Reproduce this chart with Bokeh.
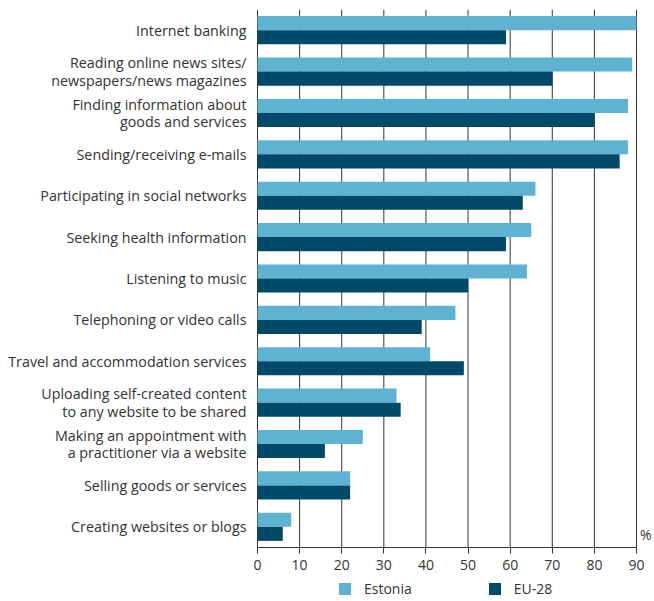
from bokeh.plotting import figure
from bokeh.models import Range1d, Legend, LegendItem, Label, FixedTicker, ColumnDataSource
from bokeh.transform import dodge
from bokeh.embed import file_html
from bokeh.resources import INLINE

categories = [
    "Internet banking",
    "Reading online news sites/\nnewspapers/news magazines",
    "Finding information about\ngoods and services",
    "Sending/receiving e-mails",
    "Participating in social networks",
    "Seeking health information",
    "Listening to music",
    "Telephoning or video calls",
    "Travel and accommodation services",
    "Uploading self-created content\nto any website to be shared",
    "Making an appointment with\na practitioner via a website",
    "Selling goods or services",
    "Creating websites or blogs",
]
estonia = [90, 89, 88, 88, 66, 65, 64, 47, 41, 33, 25, 22, 8]
eu28 = [59, 70, 80, 86, 63, 59, 50, 39, 49, 34, 16, 22, 6]
x_ticks = [0, 10, 20, 30, 40, 50, 60, 70, 80, 90]

C_EST = "#5eb2d2"
C_EU = "#004a69"
FONT = "Open Sans"
TXT = "#333333"

n = len(categories)
ypos = [n - 1 - i for i in range(n)]          # top category first
src = ColumnDataSource(dict(y=ypos, est=estonia, eu=eu28))

W, H = 652, 598
TOP = 9            # top of category block
FL = 250           # frame left
ZERO = 257         # pixel of x = 0
cat_px = 538.0     # pixel height of the category block
unit = cat_px / n
below_units = (H - TOP - cat_px) / unit
s = 379.0 / 90     # pixels per x unit
x_start = -(ZERO - FL) / s
x_end = (W - ZERO) / s

p = figure(
    width=W, height=H,
    x_range=Range1d(x_start, x_end),
    y_range=Range1d(-0.5 - below_units, n - 0.5),
    output_backend="svg", toolbar_location=None,
    min_border_left=FL, min_border_right=0, min_border_top=TOP, min_border_bottom=0,
)
p.outline_line_color = None
p.xgrid.grid_line_color = None
p.ygrid.grid_line_color = None

# vertical grid lines, only over the category block
p.segment(x0=x_ticks, x1=x_ticks, y0=[-0.5] * len(x_ticks), y1=[n - 0.5] * len(x_ticks),
          line_color=TXT, line_width=1)

bw = 0.34
r1 = p.hbar(y=dodge("y", bw / 2), right="est", left=0, height=bw, source=src,
            color=C_EST, line_color=None)
r2 = p.hbar(y=dodge("y", -bw / 2), right="eu", left=0, height=bw, source=src,
            color=C_EU, line_color=None)

# x axis placed at the bottom of the category block
xa = p.xaxis[0]
xa.fixed_location = -0.5
xa.ticker = FixedTicker(ticks=x_ticks)
xa.bounds = (0, 90)
xa.axis_line_color = TXT
xa.major_tick_line_color = TXT
xa.major_tick_in = 0
xa.major_tick_out = 6
xa.minor_tick_line_color = None
xa.major_label_text_font = FONT
xa.major_label_text_font_size = "14px"
xa.major_label_text_color = TXT
xa.major_label_standoff = 6

ya = p.yaxis[0]
ya.ticker = FixedTicker(ticks=ypos)
ya.major_label_overrides = {y: c for y, c in zip(ypos, categories)}
ya.axis_line_color = None
ya.major_tick_line_color = None
ya.minor_tick_line_color = None
ya.major_tick_in = 0
ya.major_tick_out = 0
ya.major_label_text_font = FONT
ya.major_label_text_font_size = "14.3px"
ya.major_label_text_line_height = 0.93
ya.major_label_text_color = TXT
ya.major_label_standoff = 4

p.add_layout(Label(x=x_end, y=-0.5, x_units="data", y_units="data", x_offset=-1, y_offset=4,
                   text="%", text_align="right", text_baseline="bottom",
                   text_font=FONT, text_font_size="14px", text_color=TXT))

lg = Legend(items=[LegendItem(label="Estonia", renderers=[r1]),
                   LegendItem(label="EU-28", renderers=[r2])],
            location=(87, 0), orientation="horizontal", padding=0, margin=0, spacing=75,
            border_line_color=None, background_fill_alpha=0,
            glyph_width=15, glyph_height=15, label_height=15,
            label_standoff=12, label_text_font=FONT, label_text_font_size="14px",
            label_text_color=TXT)
p.add_layout(lg, "center")

open("out.html", "w").write(file_html(p, INLINE))
